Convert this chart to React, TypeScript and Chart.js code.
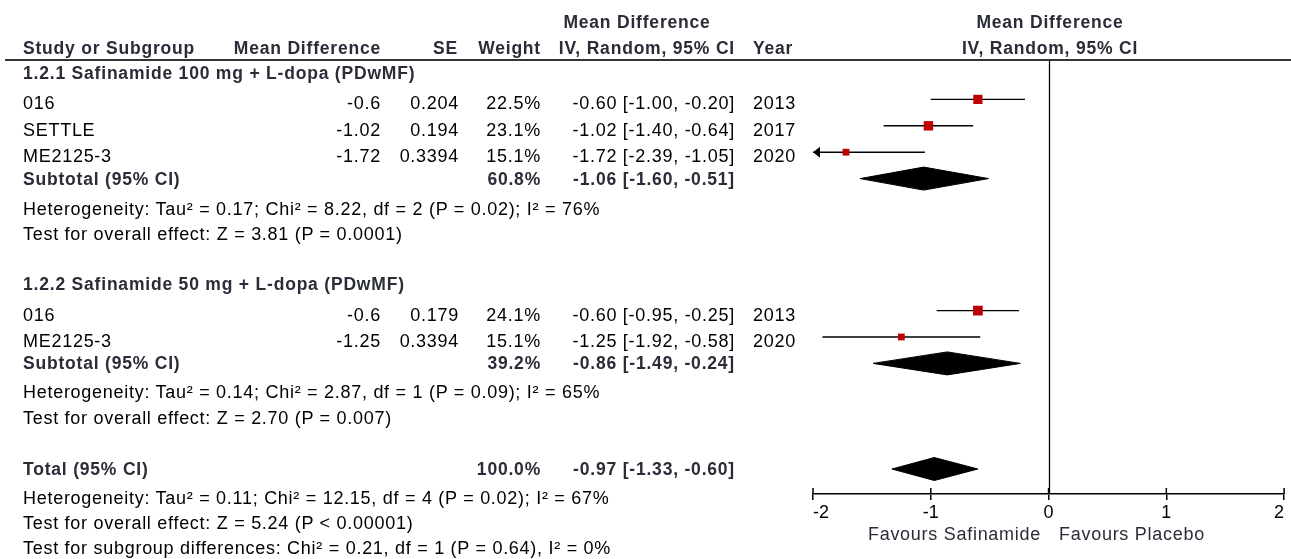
import React, { useEffect, useRef } from "react";
import { Chart, registerables } from "chart.js";

Chart.register(...registerables);

const W = 1291;
const H = 559;

// ---------- data ----------
const subgroupTitles = [
  "1.2.1 Safinamide 100 mg + L-dopa (PDwMF)",
  "1.2.2 Safinamide 50 mg + L-dopa (PDwMF)",
];
const studyNames = ["016", "SETTLE", "ME2125-3", "016", "ME2125-3"];
const studyMD = [-0.6, -1.02, -1.72, -0.6, -1.25];
const studySE = [0.204, 0.194, 0.3394, 0.179, 0.3394];
const studyWeight = [22.5, 23.1, 15.1, 24.1, 15.1];
const studyLo = [-1.0, -1.4, -2.39, -0.95, -1.92];
const studyHi = [-0.2, -0.64, -1.05, -0.25, -0.58];
const studyYear = [2013, 2017, 2020, 2013, 2020];
const studyRow = [1, 2, 3, 9, 10];

const pooledLabels = ["Subtotal (95% CI)", "Subtotal (95% CI)", "Total (95% CI)"];
const pooledWeight = [60.8, 39.2, 100.0];
const pooledMD = [-1.06, -0.86, -0.97];
const pooledLo = [-1.6, -1.49, -1.33];
const pooledHi = [-0.51, -0.24, -0.6];
const pooledRow = [4, 11, 15];

const subgroupHet = [
  "Heterogeneity: Tau² = 0.17; Chi² = 8.22, df = 2 (P = 0.02); I² = 76%",
  "Heterogeneity: Tau² = 0.14; Chi² = 2.87, df = 1 (P = 0.09); I² = 65%",
];
const subgroupEffect = [
  "Test for overall effect: Z = 3.81 (P = 0.0001)",
  "Test for overall effect: Z = 2.70 (P = 0.007)",
];
const totalNotes = [
  "Heterogeneity: Tau² = 0.11; Chi² = 12.15, df = 4 (P = 0.02); I² = 67%",
  "Test for overall effect: Z = 5.24 (P < 0.00001)",
  "Test for subgroup differences: Chi² = 0.21, df = 1 (P = 0.64), I² = 0%",
];

const xTicks = [-2, -1, 0, 1, 2];
const favourLabels = ["Favours Safinamide", "Favours Placebo"];

// ---------- layout ----------
const ROW0 = 73;
const PITCH = 26.4;
const PLOT_TOP = 60;
const PLOT_BOTTOM = 494;
const PLOT_LEFT = 813;
const PLOT_RIGHT = 1287;
const rowY = (r: number) => ROW0 + PITCH * r;

const FONT = '"Liberation Sans", Arial, Helvetica, sans-serif';
const BOLD_COLOR = "#2a2d38";

const fmt2 = (v: number) => v.toFixed(2);
const ciText = (m: number, lo: number, hi: number) => `${fmt2(m)} [${fmt2(lo)}, ${fmt2(hi)}]`;

type TProps = {
  x: number;
  y: number;
  align?: "left" | "right" | "center";
  bold?: boolean;
  color?: string;
  children: React.ReactNode;
};

function T({ x, y, align = "left", bold = false, color, children }: TProps) {
  const style: React.CSSProperties = {
    position: "absolute",
    top: y - 10,
    lineHeight: "20px",
    height: 20,
    whiteSpace: "nowrap",
    fontFamily: FONT,
    fontSize: bold ? 17.5 : 18,
    fontWeight: bold ? 700 : 400,
    letterSpacing: bold ? "0.8px" : "0.72px",
    color: color || (bold ? BOLD_COLOR : "#000"),
  };
  if (align === "left") style.left = x;
  else if (align === "right") style.right = W - x;
  else {
    style.left = x;
    style.transform = "translateX(-50%)";
  }
  return <span style={style}>{children}</span>;
}

const squareSide = (w: number) => 0.33 * w + 1.8;

export default function App() {
  const canvasRef = useRef<HTMLCanvasElement | null>(null);

  useEffect(() => {
    const canvas = canvasRef.current;
    if (!canvas) return;
    const halfH = 11.5 / PITCH;

    const ciSets = studyNames.map((_, i) => ({
      data: [
        { x: studyLo[i], y: studyRow[i] },
        { x: studyHi[i], y: studyRow[i] },
      ],
      showLine: true,
      borderColor: "#000",
      borderWidth: 1.4,
      pointRadius: 0,
      pointHoverRadius: 0,
      order: 2,
    }));

    const diamondSets = pooledMD.map((m, i) => ({
      data: [
        { x: pooledLo[i], y: pooledRow[i] },
        { x: m, y: pooledRow[i] - halfH },
        { x: pooledHi[i], y: pooledRow[i] },
        { x: m, y: pooledRow[i] + halfH },
        { x: pooledLo[i], y: pooledRow[i] },
      ],
      showLine: true,
      fill: "shape",
      backgroundColor: "#000",
      borderColor: "#000",
      borderWidth: 1,
      pointRadius: 0,
      pointHoverRadius: 0,
      tension: 0,
      order: 1,
    }));

    const squareSet = {
      data: studyMD.map((m, i) => ({ x: m, y: studyRow[i] })),
      pointStyle: "rect",
      pointRadius: (c: any) => squareSide(studyWeight[c.dataIndex] ?? 15) / Math.SQRT2,
      pointHoverRadius: (c: any) => squareSide(studyWeight[c.dataIndex] ?? 15) / Math.SQRT2,
      backgroundColor: "#c00000",
      borderColor: "#c00000",
      borderWidth: 0,
      showLine: false,
      order: 0,
    };

    const forestPlugin = {
      id: "forestExtras",
      beforeDatasetsDraw(chart: any) {
        const { ctx, chartArea, scales } = chart;
        const x0 = Math.round(scales.x.getPixelForValue(0)) + 0.5;
        ctx.save();
        ctx.strokeStyle = "#000";
        ctx.lineWidth = 1.3;
        ctx.beginPath();
        ctx.moveTo(x0, chartArea.top);
        ctx.lineTo(x0, chartArea.bottom);
        ctx.stroke();
        ctx.restore();
      },
      afterDatasetsDraw(chart: any) {
        const { ctx, scales } = chart;
        const xs = scales.x;
        const ys = scales.y;
        ctx.save();
        ctx.fillStyle = "#000";
        studyLo.forEach((lo, i) => {
          if (lo < xs.min) {
            const px = xs.getPixelForValue(xs.min);
            const py = ys.getPixelForValue(studyRow[i]);
            ctx.beginPath();
            ctx.moveTo(px, py);
            ctx.lineTo(px + 7, py - 5.5);
            ctx.lineTo(px + 7, py + 5.5);
            ctx.closePath();
            ctx.fill();
          }
        });
        ctx.restore();
      },
      afterDraw(chart: any) {
        const { ctx, chartArea, scales } = chart;
        ctx.save();
        ctx.strokeStyle = "#000";
        ctx.lineWidth = 1.5;
        xTicks.forEach((v) => {
          const px = scales.x.getPixelForValue(v);
          ctx.beginPath();
          ctx.moveTo(px, chartArea.bottom - 6);
          ctx.lineTo(px, chartArea.bottom);
          ctx.stroke();
        });
        ctx.restore();
      },
    };

    const chart = new Chart(canvas, {
      type: "scatter",
      data: { datasets: [...ciSets, ...diamondSets, squareSet] as any },
      options: {
        responsive: false,
        maintainAspectRatio: false,
        devicePixelRatio: 1,
        animation: false,
        events: [],
        layout: {
          padding: { left: PLOT_LEFT, right: W - PLOT_RIGHT, top: PLOT_TOP, bottom: 0 },
        },
        plugins: {
          legend: { display: false },
          tooltip: { enabled: false },
        },
        scales: {
          x: {
            type: "linear",
            position: "bottom",
            min: -2,
            max: 2,
            afterBuildTicks: (s: any) => {
              s.ticks = xTicks.map((v) => ({ value: v }));
            },
            afterFit: (s: any) => {
              s.height = H - PLOT_BOTTOM;
            },
            ticks: {
              align: "inner",
              color: "#000",
              font: { family: FONT, size: 18 },
              padding: 2,
              maxRotation: 0,
              autoSkip: false,
              callback: (v: any) => String(v),
            },
            grid: {
              drawOnChartArea: false,
              drawTicks: true,
              tickLength: 6,
              color: "#000",
              lineWidth: 1.5,
            },
            border: { display: true, color: "#000", width: 1.5 },
          },
          y: {
            type: "linear",
            display: false,
            reverse: true,
            min: (PLOT_TOP - ROW0) / PITCH,
            max: (PLOT_BOTTOM - ROW0) / PITCH,
          },
        },
      } as any,
      plugins: [forestPlugin],
    });

    return () => chart.destroy();
  }, []);

  const studyTextY = (i: number) => rowY(studyRow[i]) + 4;

  return (
    <div
      style={{
        position: "fixed",
        left: 0,
        top: 0,
        width: W,
        height: H,
        background: "#fff",
        overflow: "hidden",
      }}
    >
      <canvas
        ref={canvasRef}
        width={W}
        height={H}
        style={{ position: "absolute", left: 0, top: 0, width: W, height: H }}
      />

      {/* header */}
      <T x={637} y={21.5} align="center" bold>Mean Difference</T>
      <T x={1050} y={21.5} align="center" bold>Mean Difference</T>
      <T x={23} y={48} bold>Study or Subgroup</T>
      <T x={381} y={48} align="right" bold>Mean Difference</T>
      <T x={458} y={48} align="right" bold>SE</T>
      <T x={541} y={48} align="right" bold>Weight</T>
      <T x={735} y={48} align="right" bold>IV, Random, 95% CI</T>
      <T x={753} y={48} bold>Year</T>
      <T x={1050} y={48} align="center" bold>IV, Random, 95% CI</T>
      <div
        style={{
          position: "absolute",
          left: 5,
          top: 59,
          width: W - 5,
          height: 2,
          background: "#333",
        }}
      />

      {/* subgroup titles */}
      <T x={23} y={73} bold>{subgroupTitles[0]}</T>
      <T x={23} y={284} bold>{subgroupTitles[1]}</T>

      {/* studies */}
      {studyNames.map((n, i) => (
        <React.Fragment key={"s" + i}>
          <T x={23} y={studyTextY(i)}>{n}</T>
          <T x={381} y={studyTextY(i)} align="right">{String(studyMD[i])}</T>
          <T x={459} y={studyTextY(i)} align="right">{String(studySE[i])}</T>
          <T x={541} y={studyTextY(i)} align="right">{studyWeight[i].toFixed(1) + "%"}</T>
          <T x={735} y={studyTextY(i)} align="right">{ciText(studyMD[i], studyLo[i], studyHi[i])}</T>
          <T x={753} y={studyTextY(i)}>{String(studyYear[i])}</T>
        </React.Fragment>
      ))}

      {/* pooled rows */}
      {pooledLabels.map((lab, i) => (
        <React.Fragment key={"p" + i}>
          <T x={23} y={rowY(pooledRow[i])} bold>{lab}</T>
          <T x={541} y={rowY(pooledRow[i])} align="right" bold>{pooledWeight[i].toFixed(1) + "%"}</T>
          <T x={735} y={rowY(pooledRow[i])} align="right" bold>{ciText(pooledMD[i], pooledLo[i], pooledHi[i])}</T>
        </React.Fragment>
      ))}

      {/* notes */}
      <T x={23} y={208.5}>{subgroupHet[0]}</T>
      <T x={23} y={234}>{subgroupEffect[0]}</T>
      <T x={23} y={392}>{subgroupHet[1]}</T>
      <T x={23} y={417.5}>{subgroupEffect[1]}</T>
      <T x={23} y={497.5}>{totalNotes[0]}</T>
      <T x={23} y={522.5}>{totalNotes[1]}</T>
      <T x={23} y={547.5}>{totalNotes[2]}</T>

      {/* favours */}
      <T x={1041} y={534} align="right" color={BOLD_COLOR}>{favourLabels[0]}</T>
      <T x={1059} y={534} color={BOLD_COLOR}>{favourLabels[1]}</T>
    </div>
  );
}
